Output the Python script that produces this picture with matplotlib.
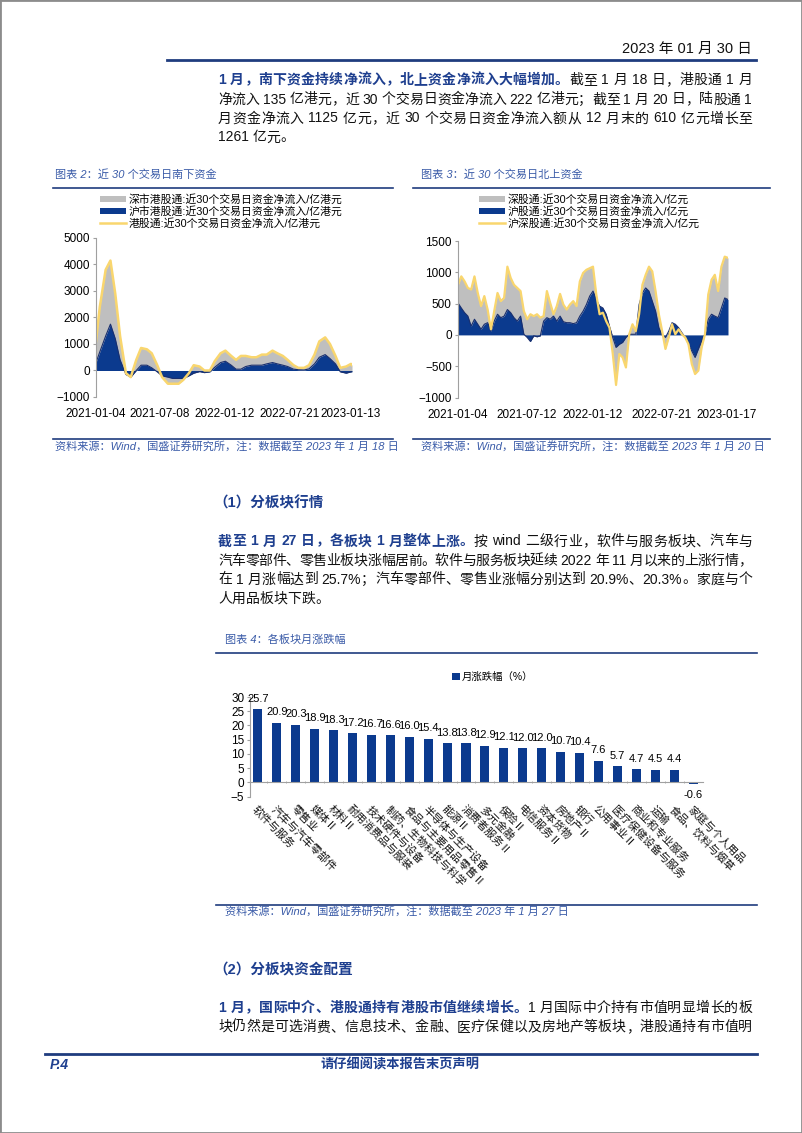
import re
import numpy as np
import pandas as pd
import matplotlib
matplotlib.use('Agg')
import matplotlib.pyplot as plt
import matplotlib.dates as mdates
from matplotlib.patches import Patch, Rectangle
from matplotlib.lines import Line2D

plt.rcParams['font.family'] = ['Liberation Sans', 'Noto Sans CJK SC', 'DejaVu Sans']

# ---------------- data ----------------
# 图表2 南下资金 (亿港元), semi-monthly readings
south_total = [1100, 2400, 3800, 4150, 2900, 1300, -100, -250, 400, 850, 800, 650,
               200, -250, -500, -500, -500, -350, -100, 200, 150, 0, 0, 350,
               650, 750, 550, 400, 550, 550, 500, 500, 600, 600, 750, 650,
               550, 400, 200, 100, 100, 200, 600, 1100, 1250, 1000, 550, 100,
               150, 250, 200]
south_sh = [300, 700, 1300, 1750, 1200, 400, -150, -250, 0, 200, 200, 100,
            -50, -200, -250, -300, -300, -300, -200, -100, -40, -80, -50, 120,
            300, 350, 200, 50, 50, 150, 200, 200, 200, 250, 300, 250,
            200, 150, 50, 30, 20, 60, 250, 500, 600, 450, 250, -50,
            -100, -50, -50]
south_ticks = ['2021-01-04', '2021-07-08', '2022-01-12', '2022-07-21', '2023-01-13']

# 图表3 北上资金 (亿元), readings about every 9 days
north_total = [800, 935, 855, 750, 725, 935, 670, 460, 620, 405,
               90, 380, 670, 540, 590, 1090, 910, 800, 750, 700,
               380, 250, 330, 300, 330, 275, 300, 700, 510, 330,
               460, 655, 485, 405, 485, 540, 460, 855, 990, 1040,
               1065, 1090,
               645, 330, 355, 220, 115, -300, -800, -305, -360, -520,
               10, 170, 60, 330, 800, 960, 1090, 1015, 700, 330,
               60, -225, -40, 170, 10, 90, 10, -40, -150, -465,
               -625, -570, -200, 10, 645, 880, 960, 700, 1090, 1250,
               1230]
north_sh = [510, 430, 355, 300, 140, 250, 170, 90, 170, 195,
            60, 220, 330, 275, 300, 405, 355, 275, 220, 300,
            10, -40, -105, -15, -30, -15, 220, 275, 250, 300,
            220, 300, 210, 195, 195, 180, 195, 300, 380, 485,
            620, 700,
            565, 460, 430, 330, 140, -40, -200, -150, -120, -40,
            10, 10, 10, 485, 670, 750, 700, 540, 380, 115,
            0, -40, 60, 195, 170, 115, 35, -40, -150, -255,
            -360, -225, -95, 10, 250, 330, 300, 275, 430, 590,
            565]
north_ticks = ['2021-01-04', '2021-07-12', '2022-01-12', '2022-07-21', '2023-01-17']

grid = list(pd.date_range('2021-01-01', '2023-01-15', freq='SMS'))
south_dates = [pd.Timestamp('2021-01-04')] + grid[1:] + [pd.Timestamp('2023-01-18')]
north_dates = pd.date_range('2021-01-04', '2023-01-20', periods=len(north_total))

# 图表4 各板块月涨跌幅
sectors = ['软件与服务', '汽车与汽车零部件', '零售业', '媒体Ⅱ', '材料Ⅱ', '耐用消费品与服装',
           '技术硬件与设备', '制药、生物科技与科学', '食品与主要用品零售Ⅱ', '半导体与生产设备',
           '能源Ⅱ', '消费者服务Ⅱ', '多元金融', '保险Ⅱ', '电信服务Ⅱ', '资本货物', '房地产Ⅱ',
           '银行', '公用事业Ⅱ', '医疗保健设备与服务', '商业和专业服务', '运输',
           '食品、饮料与烟草', '家庭与个人用品']
changes = [25.7, 20.9, 20.3, 18.9, 18.3, 17.2, 16.7, 16.6, 16.0, 15.4, 13.8, 13.8,
           12.9, 12.1, 12.0, 12.0, 10.7, 10.4, 7.6, 5.7, 4.7, 4.5, 4.4, -0.6]

# ---------------- styles ----------------
NAVY = '#0B3A8E'
GRAY = '#BFBFBF'
YELLOW = '#F9D66E'
TXTBLUE = '#1E3F8F'
CAPBLUE = '#3A5BA8'
LINEBLUE = '#1F3C7E'
SPINE = '#A0A0A0'
BLK = '#111111'

W, H = 802, 1133
fig = plt.figure(figsize=(W / 100, H / 100), dpi=100)
renderer = fig.canvas.get_renderer()


def fx(x):
    return x / W


def fy(y):
    return 1 - y / H


def box(l, t, r, b):
    return [fx(l), fy(b), (r - l) / W, (b - t) / H]


def hline(x0, x1, y, lw=1.0, color=LINEBLUE):
    fig.add_artist(Line2D([fx(x0), fx(x1)], [fy(y), fy(y)], color=color, lw=lw))


TOK = re.compile(r'[A-Za-z0-9.%]+| |.')


def text_line(x0, x1, y, segs, size=10, justify=True):
    # place a line token by token so it fills the column width
    items = []
    for s, color, weight in segs:
        for t in TOK.findall(s):
            items.append((t, color, weight))
    objs, widths = [], []
    for t, color, weight in items:
        if t == ' ':
            objs.append(None)
            widths.append(size * 0.28 * 100 / 72)
            continue
        o = fig.text(0, fy(y), t, fontsize=size, color=color, fontweight=weight,
                     ha='left', va='center')
        objs.append(o)
        widths.append(o.get_window_extent(renderer).width)
    gap = 0
    if justify and len(items) > 1:
        gap = (x1 - x0 - sum(widths)) / (len(items) - 1)
    x = x0
    for o, w in zip(objs, widths):
        if o is not None:
            o.set_x(fx(x))
        x += w + gap


# page frame
fig.add_artist(Rectangle((0, 0), 1, 1, transform=fig.transFigure, fill=False,
                         edgecolor='#8C8C8C', lw=2))

# header
fig.text(fx(752), fy(49), '2023 年 01 月 30 日', ha='right', va='center', fontsize=10.5, color=BLK)
hline(167, 756, 59.5, lw=2.0)

# paragraph 1
L, R = 218, 752
text_line(L, R, 80, [('1 月，南下资金持续净流入，北上资金净流入大幅增加。', TXTBLUE, 'bold'),
                     ('截至 1 月 18 日，港股通 1 月', BLK, 'normal')])
text_line(L, R, 99.5, [('净流入 135 亿港元，近 30 个交易日资金净流入 222 亿港元；截至 1 月 20 日，陆股通 1', BLK, 'normal')])
text_line(L, R, 118.5, [('月资金净流入 1125 亿元，近 30 个交易日资金净流入额从 12 月末的 610 亿元增长至', BLK, 'normal')])
text_line(L, R, 137.5, [('1261 亿元。', BLK, 'normal')], justify=False)

# ---------------- 图表2 ----------------
fig.text(fx(55), fy(175), '图表 2：近 30 个交易日南下资金', fontsize=8, color=CAPBLUE,
         style='italic', va='center')
hline(53, 393, 187.5, lw=1.2)

ax2 = fig.add_axes(box(96, 238, 352, 397))
x2 = mdates.date2num(south_dates)
ax2.fill_between(x2, south_sh, south_total, color=GRAY, lw=0)
ax2.fill_between(x2, 0, south_sh, color=NAVY, lw=0)
ax2.plot(x2, south_sh, color='#1A2F6E', lw=0.8)
ax2.plot(x2, south_total, color=YELLOW, lw=1.8)
ax2.set_xlim(x2[0], x2[-1])
ax2.set_ylim(-1000, 5000)
ax2.set_yticks(np.arange(-1000, 5001, 1000))
ax2.set_xticks(mdates.date2num(pd.to_datetime(south_ticks)))
ax2.set_xticklabels(south_ticks)

fig.legend(handles=[Patch(fc=GRAY), Patch(fc=NAVY), Line2D([], [], color=YELLOW, lw=1.8)],
           labels=['深市港股通:近30个交易日资金净流入/亿港元', '沪市港股通:近30个交易日资金净流入/亿港元',
                   '港股通:近30个交易日资金净流入/亿港元'],
           loc='upper left', bbox_to_anchor=(fx(100), fy(194)), frameon=False, fontsize=7.8,
           handlelength=2.4, handleheight=0.55, handletextpad=0.25, labelspacing=0.12,
           borderpad=0, borderaxespad=0)

hline(53, 393, 439, lw=1.2)
fig.text(fx(55), fy(447), '资料来源：Wind，国盛证券研究所，注：数据截至 2023 年 1 月 18 日',
         fontsize=8, color=CAPBLUE, style='italic', va='center')

# ---------------- 图表3 ----------------
fig.text(fx(421), fy(175), '图表 3：近 30 个交易日北上资金', fontsize=8, color=CAPBLUE,
         style='italic', va='center')
hline(413, 770, 187.5, lw=1.2)

ax3 = fig.add_axes(box(458, 241, 728, 397.5))
x3 = mdates.date2num(north_dates)
ax3.fill_between(x3, north_sh, north_total, color=GRAY, lw=0)
ax3.fill_between(x3, 0, north_sh, color=NAVY, lw=0)
ax3.plot(x3, north_sh, color='#1A2F6E', lw=0.8)
ax3.plot(x3, north_total, color=YELLOW, lw=1.6)
ax3.set_xlim(x3[0], x3[-1])
ax3.set_ylim(-1000, 1500)
ax3.set_yticks(np.arange(-1000, 1501, 500))
ax3.set_xticks(mdates.date2num(pd.to_datetime(north_ticks)))
ax3.set_xticklabels(north_ticks)

fig.legend(handles=[Patch(fc=GRAY), Patch(fc=NAVY), Line2D([], [], color=YELLOW, lw=1.8)],
           labels=['深股通:近30个交易日资金净流入/亿元', '沪股通:近30个交易日资金净流入/亿元',
                   '沪深股通:近30个交易日资金净流入/亿元'],
           loc='upper left', bbox_to_anchor=(fx(479), fy(194)), frameon=False, fontsize=7.8,
           handlelength=2.4, handleheight=0.55, handletextpad=0.25, labelspacing=0.12,
           borderpad=0, borderaxespad=0)

hline(413, 770, 439, lw=1.2)
fig.text(fx(421), fy(447), '资料来源：Wind，国盛证券研究所，注：数据截至 2023 年 1 月 20 日',
         fontsize=8, color=CAPBLUE, style='italic', va='center')

for ax in (ax2, ax3):
    for s in ('top', 'right', 'bottom'):
        ax.spines[s].set_visible(False)
    ax.spines['left'].set_color(SPINE)
    ax.spines['left'].set_linewidth(0.8)
    ax.tick_params(axis='y', length=2.5, color=SPINE, labelsize=8.5, pad=2)
    ax.tick_params(axis='x', length=0, labelsize=8.5, pad=8)
    ax.patch.set_alpha(0)

# ---------------- section (1) ----------------
fig.text(fx(213), fy(503), '（1）分板块行情', fontsize=10.5, color=TXTBLUE, fontweight='bold', va='center')
text_line(L, R, 541.5, [('截至 1 月 27 日，各板块 1 月整体上涨。', TXTBLUE, 'bold'),
                        ('按 wind 二级行业，软件与服务板块、汽车与', BLK, 'normal')])
text_line(L, R, 560.5, [('汽车零部件、零售业板块涨幅居前。软件与服务板块延续 2022 年 11 月以来的上涨行情，', BLK, 'normal')])
text_line(L, R, 579.5, [('在 1 月涨幅达到 25.7%；汽车零部件、零售业涨幅分别达到 20.9%、20.3%。家庭与个', BLK, 'normal')])
text_line(L, R, 598.5, [('人用品板块下跌。', BLK, 'normal')], justify=False)

# ---------------- 图表4 ----------------
fig.text(fx(225), fy(640), '图表 4：各板块月涨跌幅', fontsize=8, color=CAPBLUE, style='italic', va='center')
hline(216, 757, 652.5, lw=1.2)

ax4 = fig.add_axes(box(250, 697, 702.5, 796.7))
xs = np.arange(len(changes))
bars = ax4.bar(xs, changes, width=0.48, color=NAVY)
ax4.bar_label(bars, labels=[f'{v:.1f}' for v in changes], padding=4, fontsize=8)
ax4.set_ylim(-5, 30)
ax4.set_yticks(np.arange(-5, 31, 5))
ax4.set_xlim(-0.42, len(changes) - 0.5)
for s in ('top', 'right'):
    ax4.spines[s].set_visible(False)
ax4.spines['bottom'].set_position(('data', 0))
ax4.spines['bottom'].set_color(SPINE)
ax4.spines['left'].set_color(SPINE)
ax4.set_xticks([])
ax4.set_xticks(xs[:-1] + 0.5, minor=True)
ax4.tick_params(axis='x', which='minor', length=2, color=SPINE, direction='inout')
ax4.tick_params(axis='y', length=2, color=SPINE, labelsize=8.5, pad=2)
ax4.patch.set_alpha(0)
for i, name in enumerate(sectors):
    ax4.text(i, -7.5, name, rotation=-45, rotation_mode='anchor', ha='left', va='top',
             fontsize=7.8, color=BLK, clip_on=False)

fig.legend(handles=[Patch(fc=NAVY)], labels=['月涨跌幅（%）'], loc='center left',
           bbox_to_anchor=(fx(452), fy(677)), frameon=False, fontsize=7.5,
           handlelength=0.75, handleheight=0.75, handletextpad=0.2, borderpad=0, borderaxespad=0)

hline(216, 757, 905, lw=1.2)
fig.text(fx(225), fy(912), '资料来源：Wind，国盛证券研究所，注：数据截至 2023 年 1 月 27 日',
         fontsize=8, color=CAPBLUE, style='italic', va='center')

# ---------------- section (2) ----------------
fig.text(fx(213), fy(970), '（2）分板块资金配置', fontsize=10.5, color=TXTBLUE, fontweight='bold', va='center')
text_line(L, R, 1008, [('1 月，国际中介、港股通持有港股市值继续增长。', TXTBLUE, 'bold'),
                       ('1 月国际中介持有市值明显增长的板', BLK, 'normal')])
text_line(L, R, 1027, [('块仍然是可选消费、信息技术、金融、医疗保健以及房地产等板块，港股通持有市值明', BLK, 'normal')])

# footer
hline(45, 757, 1054, lw=2.0)
fig.text(fx(50), fy(1065), 'P.4', fontsize=10, color=TXTBLUE, fontweight='bold', style='italic', va='center')
fig.text(fx(400), fy(1065), '请仔细阅读本报告末页声明', fontsize=9.5, color=TXTBLUE, fontweight='bold',
         style='italic', va='center', ha='center')

fig.savefig('out.png', dpi=100)
